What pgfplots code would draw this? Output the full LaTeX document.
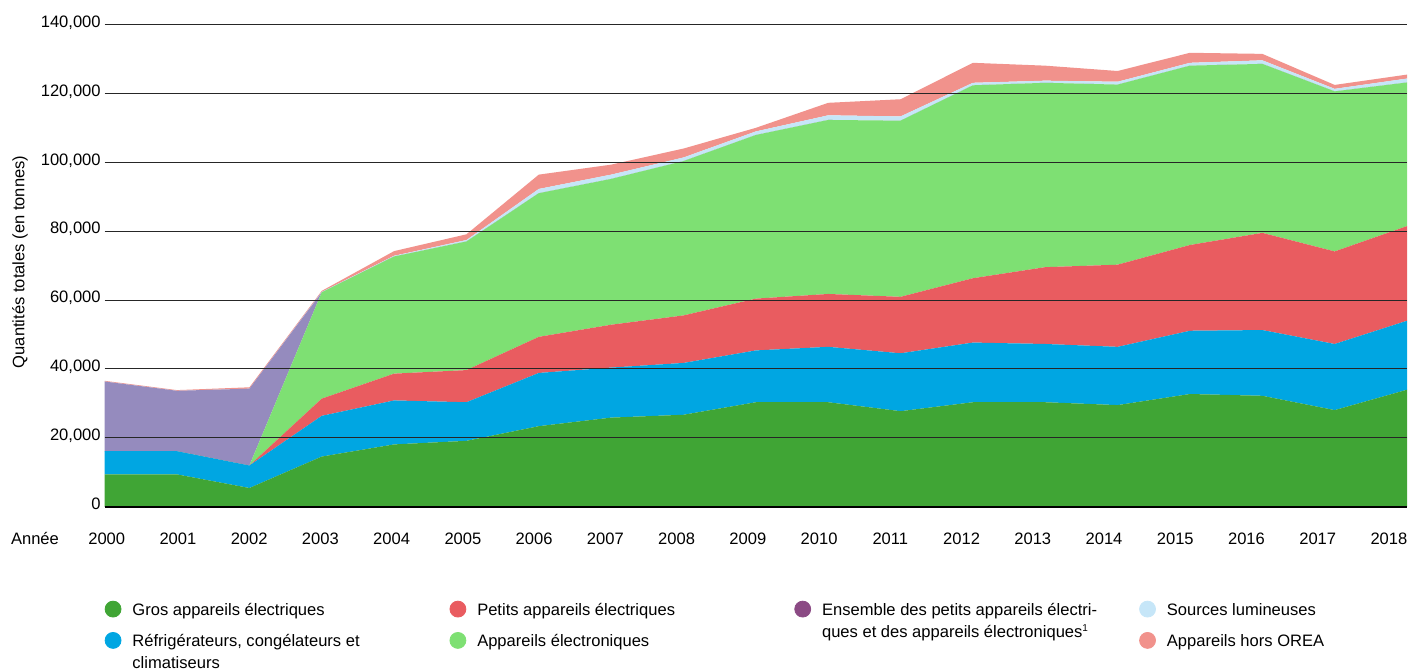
\documentclass[border=0pt]{standalone}
\usepackage{fontspec}
\setmainfont{Liberation Sans}
\usepackage{pgfplots}
\usepackage{pgfplotstable}
\pgfplotsset{compat=1.18}

\definecolor{cG}{HTML}{40A535}
\definecolor{cB}{HTML}{00A6E2}
\definecolor{cR}{HTML}{E95C60}
\definecolor{cLG}{HTML}{7EE073}
\definecolor{cP}{HTML}{958BBE}
\definecolor{cPleg}{HTML}{8B4A84}
\definecolor{cLB}{HTML}{C6E6F8}
\definecolor{cO}{HTML}{F1928C}

\newcommand{\lgb}[2]{\parbox[t]{#1}{\raggedright #2}}

\pgfplotstableread{
x  G     B     R     LG    P     LB   O
0  9350  6750  0     0     20250 0    200
1  9350  6750  0     0     17550 0    200
2  5400  6540  0     0     22330 0    400
3  14540 11840 4990  30930 0     100  300
4  18070 12780 7790  34060 0     200  1360
5  19110 11220 9340  37390 0     420  1660
6  23370 15470 10490 41760 0     1240 4160
7  25860 14540 12460 42380 0     1250 2900
8  26690 15060 13810 44870 0     1040 2600
9  30330 15060 15060 47560 0     1040 1040
10 30330 16100 15370 50580 0     1350 3630
11 27730 16830 16410 51200 0     1240 4990
12 30330 17340 18700 56080 0     730  5810
13 30330 16930 22330 53590 0     620  4360
14 29500 16930 23880 52350 0     830  3120
15 32720 18380 24930 52130 0     830  2910
16 32200 19110 28250 49120 0     1040 1870
17 28040 19220 26900 46530 0     730  1140
18 33960 20050 27520 41750 0     1140 1150
}\data

\begin{document}
\begin{tikzpicture}
\begin{axis}[
  scale only axis, width=653pt, height=241.5pt,
  xmin=0, xmax=18, ymin=0, ymax=140000,
  stack plots=y,
  axis on top,
  axis x line*=bottom, axis y line*=left,
  x axis line style={-, line width=1pt, black},
  y axis line style={draw=none},
  ymajorgrids, major grid style={black!85, line width=0.5pt},
  major tick length=0pt,
  ytick={0,20000,40000,60000,80000,100000,120000,140000},
  yticklabels={0,{20,000},{40,000},{60,000},{80,000},{100,000},{120,000},{140,000}},
  scaled y ticks=false,
  tick label style={font=\fontsize{8.3}{10}\selectfont},
  yticklabel style={anchor=base east, yshift=-1.25pt, xshift=1.5pt},
  xtick={0.028,1.012,1.997,2.981,3.966,4.951,5.935,6.920,7.904,8.889,9.874,10.858,11.843,12.827,13.812,14.797,15.781,16.766,17.750},
  xticklabels={2000,2001,2002,2003,2004,2005,2006,2007,2008,2009,2010,2011,2012,2013,2014,2015,2016,2017,2018},
  xticklabel style={anchor=base, yshift=-19pt},
  ylabel={Quantités totales (en tonnes)},
  every axis y label/.style={at={(axis description cs:-0.0651,0.508)}, rotate=90, anchor=center, font=\fontsize{8.3}{10}\selectfont},
  legend columns=4,
  legend style={at={(axis description cs:0,-0.1934)}, anchor=north west, draw=none, fill=none,
    inner sep=0pt, outer sep=0pt, column sep=0pt, row sep=4.2pt,
    font=\fontsize{8.3}{11}\selectfont,
    cells={anchor=base west, inner sep=0pt, text height=6pt, text depth=2pt}},
]
\addlegendimage{legend image code/.code={\fill[cG] (0pt,3.3pt) circle[radius=4pt]; \path (7.5pt,0pt);}}
\addlegendentry{\lgb{157pt}{Gros appareils électriques}}
\addlegendimage{legend image code/.code={\fill[cR] (0pt,3.3pt) circle[radius=4pt]; \path (7.5pt,0pt);}}
\addlegendentry{\lgb{157pt}{Petits appareils électriques}}
\addlegendimage{legend image code/.code={\fill[cPleg] (0pt,3.3pt) circle[radius=4pt]; \path (7.5pt,0pt);}}
\addlegendentry{\lgb{157pt}{Ensemble des petits appareils électri-\newline ques et des appareils électroniques\raisebox{3pt}{\fontsize{5}{5}\selectfont 1}}}
\addlegendimage{legend image code/.code={\fill[cLB] (0pt,3.3pt) circle[radius=4pt]; \path (7.5pt,0pt);}}
\addlegendentry{\lgb{100pt}{Sources lumineuses}}
\addlegendimage{legend image code/.code={\fill[cB] (0pt,3.3pt) circle[radius=4pt]; \path (7.5pt,0pt);}}
\addlegendentry{\lgb{157pt}{Réfrigérateurs, congélateurs et\newline climatiseurs}}
\addlegendimage{legend image code/.code={\fill[cLG] (0pt,3.3pt) circle[radius=4pt]; \path (7.5pt,0pt);}}
\addlegendentry{\lgb{157pt}{Appareils électroniques}}
\addlegendimage{empty legend}
\addlegendentry{}
\addlegendimage{legend image code/.code={\fill[cO] (0pt,3.3pt) circle[radius=4pt]; \path (7.5pt,0pt);}}
\addlegendentry{\lgb{100pt}{Appareils hors OREA}}

\addplot[fill=cG, draw=none] table[x=x, y=G]{\data} \closedcycle;
\addplot[fill=cB, draw=none] table[x=x, y=B]{\data} \closedcycle;
\addplot[fill=cR, draw=none] table[x=x, y=R]{\data} \closedcycle;
\addplot[fill=cLG, draw=none] table[x=x, y=LG]{\data} \closedcycle;
\addplot[fill=cP, draw=none] table[x=x, y=P]{\data} \closedcycle;
\addplot[fill=cLB, draw=none] table[x=x, y=LB]{\data} \closedcycle;
\addplot[fill=cO, draw=none] table[x=x, y=O]{\data} \closedcycle;
\end{axis}
\node[anchor=base west, font=\fontsize{8.3}{10}\selectfont] at ([xshift=-50.5pt, yshift=-19pt]current axis.south west) {Année};
\path (current axis.south west) ++(-52.5pt,-81.5pt) rectangle ++(707pt,335.5pt);
\end{tikzpicture}
\end{document}
